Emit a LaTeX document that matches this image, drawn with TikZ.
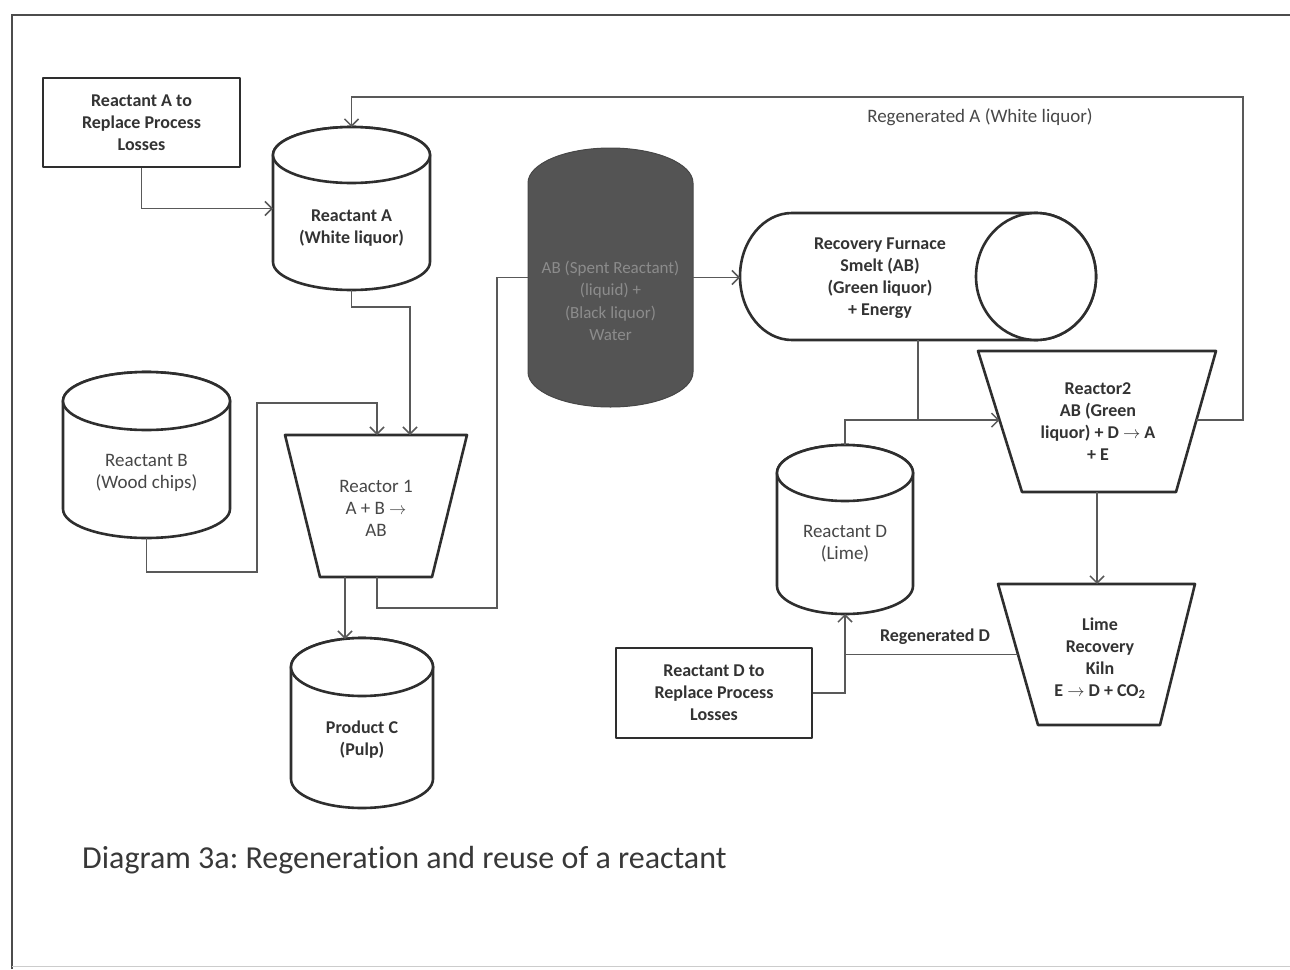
\documentclass[tikz,border=0pt]{standalone}
\usepackage{fontspec}
\setmainfont{Carlito}[Ligatures=NoCommon]
\frenchspacing
\usetikzlibrary{arrows.meta,calc}
\newcommand\anchorbox[5]{%
  \node[inner sep=0pt,outer sep=0pt,minimum width={(#4-#2)*1pt},minimum height={(#5-#3)*1pt}] (#1) at ({(#2+#4)/2},{(#3+#5)/2}) {};}
\newcommand\drum[9]{% name, cx, top, bottom, rx, ry, text y, style, text
  \path[shp] (#2-#5,#3+#6) -- (#2-#5,#4-#6) arc[start angle=180,end angle=360,x radius=#5pt,y radius=#6pt]
    -- (#2+#5,#3+#6) arc[start angle=0,end angle=180,x radius=#5pt,y radius=#6pt] -- cycle;
  \draw[shp] (#2,#3+#6) ellipse[x radius=#5pt,y radius=#6pt];
  \anchorbox{#1}{(#2-#5)}{#3}{(#2+#5)}{#4}
  \node[#8] (#1-t) at (#2,#7) {#9};}
\begin{document}
\begin{tikzpicture}[x=1pt,y=-1pt,
  shp/.style={draw=black!82,line width=2.6pt,fill=white,line join=round},
  con/.style={draw=black!65,line width=1.7pt},
  arr/.style={con,-{Straight Barb[length=7pt,width=14pt,line width=1.5pt]}},
  lbl/.style={font=\fontsize{18}{22}\selectfont\bfseries,text=black!80,align=center,inner sep=0pt},
  lbll/.style={font=\fontsize{19}{22}\selectfont,text=black!72,align=center,inner sep=0pt},
  boxst/.style={shp,lbl,inner sep=0pt}]
\useasboundingbox (0,0) rectangle (1290,969);
% frame
\draw[black!70,line width=1.6pt] (12,969) -- (12,15) -- (1290,15);
\draw[black!20,line width=1pt] (12,966) -- (1290,966);

% boxes
\node[boxst,minimum width=197pt,minimum height=89pt] (bA) at (141.5,122.5) {Reactant A to\\Replace Process\\Losses};
\node[boxst,minimum width=196pt,minimum height=90pt] (bD) at (714,693) {Reactant D to\\Replace Process\\Losses};

% drums
\drum{cA}{351.5}{127}{290}{78.5}{28}{228}{lbl}{Reactant A\\(White liquor)}
\drum{cB}{146.5}{372}{538}{83.5}{29}{473}{lbll}{Reactant B\\(Wood chips)}
\drum{cC}{362}{638}{808}{71}{29}{740}{lbl}{Product C\\(Pulp)}
\drum{cD}{845}{445}{614}{68}{28}{544}{lbll}{Reactant D\\(Lime)}

% dark vessel
\path[fill=black!67,draw=black!72,line width=1pt] (528,183) arc[start angle=180,end angle=0,x radius=82.5pt,y radius=35pt]
  -- (693,372) arc[start angle=0,end angle=-180,x radius=82.5pt,y radius=35pt] -- cycle;
\anchorbox{blk}{528}{148}{693}{407}
\node[lbll,text=black!45,font=\fontsize{17}{22.5}\selectfont] (blk-t) at (610.5,301) {AB (Spent Reactant)\\(liquid) +\\(Black liquor)\\Water};

% recovery furnace
\path[shp] (792,213) -- (1036,213) arc[start angle=90,end angle=-90,x radius=60pt,y radius=63.5pt]
  -- (792,340) arc[start angle=270,end angle=90,x radius=52pt,y radius=63.5pt] -- cycle;
\draw[shp] (1036,276.5) ellipse[x radius=60pt,y radius=63.5pt];
\anchorbox{fur}{740}{213}{1096}{340}
\node[lbl] (fur-t) at (880,278) {Recovery Furnace\\Smelt (AB)\\(Green liquor)\\+ Energy};

% reactor 1
\coordinate (r1tl) at (285,435); \coordinate (r1tr) at (467,435);
\coordinate (r1br) at (432,577); \coordinate (r1bl) at (320,577);
\draw[shp] (r1tl) -- (r1tr) -- (r1br) -- (r1bl) -- cycle;
\anchorbox{r1}{285}{435}{467}{577}
\node[lbll] (r1-t) at (376,508) {Reactor 1\\A + B $\rightarrow$\\AB};

% reactor 2
\coordinate (r2tl) at (978,351); \coordinate (r2tr) at (1216,351);
\coordinate (r2br) at (1176,492); \coordinate (r2bl) at (1022,492);
\draw[shp] (r2tl) -- (r2tr) -- (r2br) -- (r2bl) -- cycle;
\anchorbox{r2}{978}{351}{1216}{492}
\node[lbl] (r2-t) at (1098,422) {Reactor2\\AB (Green\\liquor) + D $\rightarrow$ A\\+ E};

% lime kiln
\coordinate (kntl) at (998,584); \coordinate (kntr) at (1195,584);
\coordinate (knbr) at (1160,725); \coordinate (knbl) at (1038,725);
\draw[shp] (kntl) -- (kntr) -- (knbr) -- (knbl) -- cycle;
\anchorbox{kn}{998}{584}{1195}{725}
\node[lbl] (kn-t) at (1100,658) {Lime\\Recovery\\Kiln\\E $\rightarrow$ D + CO\textsubscript{2}};

% connection points on slanted edges
\coordinate (r2in) at ($(r2tl)!0.49!(r2bl)$);
\coordinate (r2out) at ($(r2tr)!0.49!(r2br)$);
\coordinate (knl) at ($(kntl)!0.5!(knbl)$);

% connectors
\coordinate (topR) at (1243,97);
\draw[arr] (bA.south) |- (cA.west);
\draw[arr] (r2out) -| (topR) -| (cA.north);
\node[lbll] (lblA) at (980,117) {Regenerated A (White liquor)};
\draw[arr] (cA.south) -- ++(0,17) -| ([xshift=34pt]r1.north);
\draw[arr] (cB.south) -- ++(0,34) -- (257,572) -- (257,403) -| ([xshift=1pt]r1.north);
\draw[arr] ([xshift=-31pt]r1.south) -- ++(0,62);
\draw[con] ([xshift=1pt]r1.south) -- ++(0,31) -- (497,608) |- (blk.west);
\draw[arr] (blk.east) -- (blk.east -| fur.west);
\draw[con] (fur.south) -- ++(0,80);
\draw[arr] (cD.north) |- (r2in);
\draw[arr] (r2.south) -- (r2.south |- kn.north);
\draw[con] (knl) -- (knl -| cD.south);
\draw[arr] (bD.east) -| (cD.south);
\node[lbl] (lblD) at (935,637) {Regenerated D};

% caption
\node[anchor=west,inner sep=0pt,font=\fontsize{32}{34}\selectfont,text=black!78] (cap) at (82,860) {Diagram 3a: Regeneration and reuse of a reactant};
\end{tikzpicture}
\end{document}
